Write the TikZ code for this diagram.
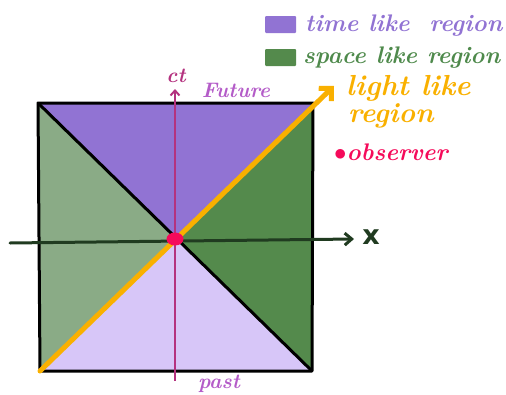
\documentclass[tikz,border=0pt]{standalone}
\usepackage{fontspec}
\newfontfamily\axisfont{DejaVu Sans}
\usetikzlibrary{arrows.meta,shapes.geometric}
\definecolor{timec}{HTML}{9173D3}
\definecolor{spacedark}{HTML}{548A4C}
\definecolor{spacelight}{HTML}{8AAB86}
\definecolor{pastc}{HTML}{D7C6F8}
\definecolor{lightc}{HTML}{F9B000}
\definecolor{ctc}{HTML}{B4327F}
\definecolor{labc}{HTML}{B45CC8}
\definecolor{obsc}{HTML}{F50A5A}
\definecolor{axisc}{HTML}{203B20}
\definecolor{spacetxt}{HTML}{4F8A4C}
\tikzset{
  hand/.style={font=\bfseries\itshape\fontsize{#1}{#1}\selectfont, inner sep=0pt},
  legbox/.style={minimum width=31pt, minimum height=17pt, inner sep=0pt, rounded corners=1pt},
}
\begin{document}
\begin{tikzpicture}[x=1pt,y=-1pt]
\useasboundingbox (0,0) rectangle (506,394);
\coordinate (TL) at (38,103);
\coordinate (TR) at (313,103);
\coordinate (BR) at (312,371);
\coordinate (BL) at (40,371);
\coordinate (O) at (175,239);
% regions
\fill[timec] (TL)--(TR)--(O)--cycle;
\fill[spacedark] (TR)--(BR)--(O)--cycle;
\fill[spacelight] (TL)--(BL)--(O)--cycle;
\fill[pastc] (BL)--(BR)--(O)--cycle;
\draw[line width=3pt, line join=round] (TL)--(TR)--(BR)--(BL)--cycle;
\draw[line width=3pt] (TL)--(BR);
% axes
\coordinate (xs) at (10,243);
\coordinate (xe) at (354,239);
\draw[axisc, line width=3pt, line cap=round, -{Straight Barb[length=7pt,width=12pt]}] (xs)--(xe);
\coordinate (ts) at (175,381);
\coordinate (te) at (175,89);
\draw[ctc, line width=2pt, -{Straight Barb[length=5pt,width=9pt]}] (ts)--(te);
\coordinate (le) at (334,86);
\draw[lightc, line width=5pt, line cap=round, -{Straight Barb[length=9pt,width=18pt]}] (BL)--(le);
\node[ellipse, fill=obsc, minimum width=17pt, minimum height=13pt, inner sep=0pt] (obs) at (O) {};
% axis labels
\node[inner sep=0pt, text=axisc, font=\axisfont\bfseries\fontsize{27}{27}\selectfont] (xl) at (371,237) {x};
\node[hand=21, text=ctc] (ctl) at (176,76) {ct};
\node[hand=21, text=labc] (fut) at (236,90) {Future};
\node[hand=21, text=labc] (past) at (219,384) {past};
% legend
\node[legbox, fill=timec] (b1) at (280.5,24.5) {};
\node[legbox, fill=spacedark] (b2) at (280.5,57.5) {};
\node[hand=24, text=timec, anchor=west] (t1) at (305,26) {time like\ \ region};
\node[hand=24, text=spacetxt, anchor=west] (t2) at (303,58) {space like region};
\node[hand=29, text=lightc, anchor=west] (t3) at (346,88) {light like};
\node[hand=28, text=lightc, anchor=west] (t4) at (348,116) {region};
\node[hand=24, text=obsc, anchor=west] (t5) at (334,152) {$\bullet$observer};
\end{tikzpicture}
\end{document}
